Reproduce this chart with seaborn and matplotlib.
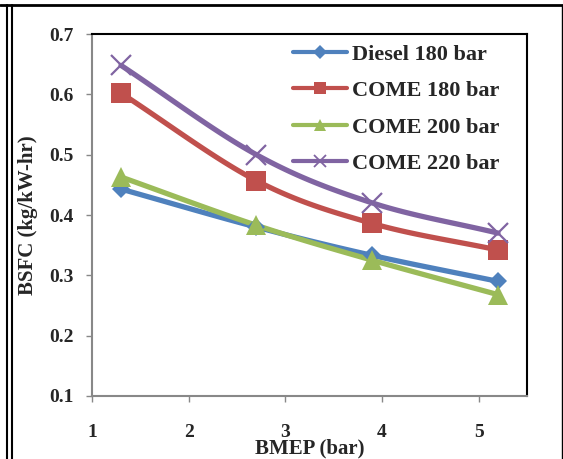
import numpy as np
import pandas as pd
import matplotlib
matplotlib.use("Agg")
import matplotlib.pyplot as plt
import seaborn as sns
from matplotlib.lines import Line2D

# ---- data ----
bmep = [1.3, 2.7, 3.9, 5.2]
diesel_180 = [0.443, 0.380, 0.333, 0.290]
come_180 = [0.602, 0.457, 0.386, 0.342]
come_200 = [0.463, 0.383, 0.325, 0.268]
come_220 = [0.648, 0.500, 0.420, 0.370]
series_names = ["Diesel 180 bar", "COME 180 bar", "COME 200 bar", "COME 220 bar"]
x_ticks = [1, 2, 3, 4, 5]
y_ticks = [0.1, 0.2, 0.3, 0.4, 0.5, 0.6, 0.7]

sns.set_theme(style="white")
plt.rcParams['font.family'] = ['Liberation Serif', 'DejaVu Serif']
plt.rcParams['font.weight'] = 'bold'

colors = ["#4F81BD", "#C0504D", "#9BBB59", "#8064A2"]
markers = ["D", "s", "^", "x"]
msizes = [9.5, 14, 14.5, 14]
leg_msizes = [7, 9, 9, 8]

def smooth(xs, ys, n=30):
    # Excel-like smoothed line (Bezier through points) for drawing only
    xs = np.asarray(xs, float); ys = np.asarray(ys, float)
    px = np.concatenate([[2*xs[0]-xs[1]], xs, [2*xs[-1]-xs[-2]]])
    py = np.concatenate([[2*ys[0]-ys[1]], ys, [2*ys[-1]-ys[-2]]])
    ox, oy = [], []
    for i in range(1, len(px)-2):
        t = np.linspace(0, 1, n)
        p0, p1, p2, p3 = [np.array([px[j], py[j]]) for j in (i-1, i, i+1, i+2)]
        c1 = p1 + (p2 - p0) / 6.0
        c2 = p2 - (p3 - p1) / 6.0
        b = ((1-t)**3)[:, None]*p1 + (3*(1-t)**2*t)[:, None]*c1 + (3*(1-t)*t**2)[:, None]*c2 + (t**3)[:, None]*p2
        ox.extend(b[:, 0]); oy.extend(b[:, 1])
    return np.array(ox), np.array(oy)

fig = plt.figure(figsize=(5.63, 4.59), dpi=100)
ax = fig.add_axes([92/563, 1-396/459, (527-92)/563, (396-34)/459])

all_series = [diesel_180, come_180, come_200, come_220]
handles = []
for name, ys, c, m, ms, lms in zip(series_names, all_series, colors, markers, msizes, leg_msizes):
    sx, sy = smooth(bmep, ys)
    sns.lineplot(x=sx, y=sy, ax=ax, color=c, linewidth=3.8, sort=False, legend=False)
    df = pd.DataFrame({"x": bmep, "y": ys})
    mew = 1.6 if m == "x" else 0
    ax.plot(df["x"], df["y"], linestyle="none", marker=m, markersize=ms, color=c,
            markeredgewidth=mew, zorder=5)
    handles.append(Line2D([0], [0], color=c, linewidth=3.0, marker=m,
                          markersize=lms, markeredgewidth=1.3 if m == "x" else 0))

ax.set_xlim(1, 5.5)
ax.set_ylim(0.1, 0.7)
ax.set_xticks(x_ticks)
ax.set_yticks(y_ticks)
ax.set_xticklabels([str(v) for v in x_ticks], fontsize=14, fontweight='bold')
ax.set_yticklabels([f"{v:.1f}" for v in y_ticks], fontsize=14, fontweight='bold')
ax.tick_params(axis='x', direction='out', length=4, width=1, color='#888888', pad=16, bottom=True)
ax.tick_params(axis='y', direction='out', length=4, width=1, color='#888888', pad=9, left=True)

for s in ["left", "bottom"]:
    ax.spines[s].set_color("#888888")
    ax.spines[s].set_linewidth(1.5)
for s in ["top", "right"]:
    ax.spines[s].set_color("#000000")
    ax.spines[s].set_linewidth(1.5)

ax.set_xlabel("BMEP (bar)", fontsize=15, fontweight='bold')
ax.xaxis.set_label_coords(0.5, -0.146)
ax.xaxis.label.set_va('center')
ax.set_ylabel("BSFC (kg/kW-hr)", fontsize=15, fontweight='bold')
ax.yaxis.set_label_coords(-0.147, 0.5)
ax.yaxis.label.set_va('center')

leg = ax.legend(handles, series_names, loc="upper left",
                bbox_to_anchor=((293-92)/435, (396-44)/362),
                frameon=False, prop={'family': 'Liberation Serif', 'weight': 'bold', 'size': 16},
                handlelength=2.45, handletextpad=0.2, labelspacing=0.72,
                borderaxespad=0, borderpad=0, numpoints=1)

# outer frame
fig.add_artist(Line2D([0, 1], [1-5/459, 1-5/459], transform=fig.transFigure, color='black', linewidth=2))
fig.add_artist(Line2D([6.5/563, 6.5/563], [0, 1-5/459], transform=fig.transFigure, color='black', linewidth=1.5))
fig.add_artist(Line2D([11.5/563, 11.5/563], [0, 1-5/459], transform=fig.transFigure, color='black', linewidth=1.5))
fig.add_artist(Line2D([561.5/563, 561.5/563], [0, 1-5/459], transform=fig.transFigure, color='black', linewidth=1.0))

fig.savefig("out.png", dpi=100)
